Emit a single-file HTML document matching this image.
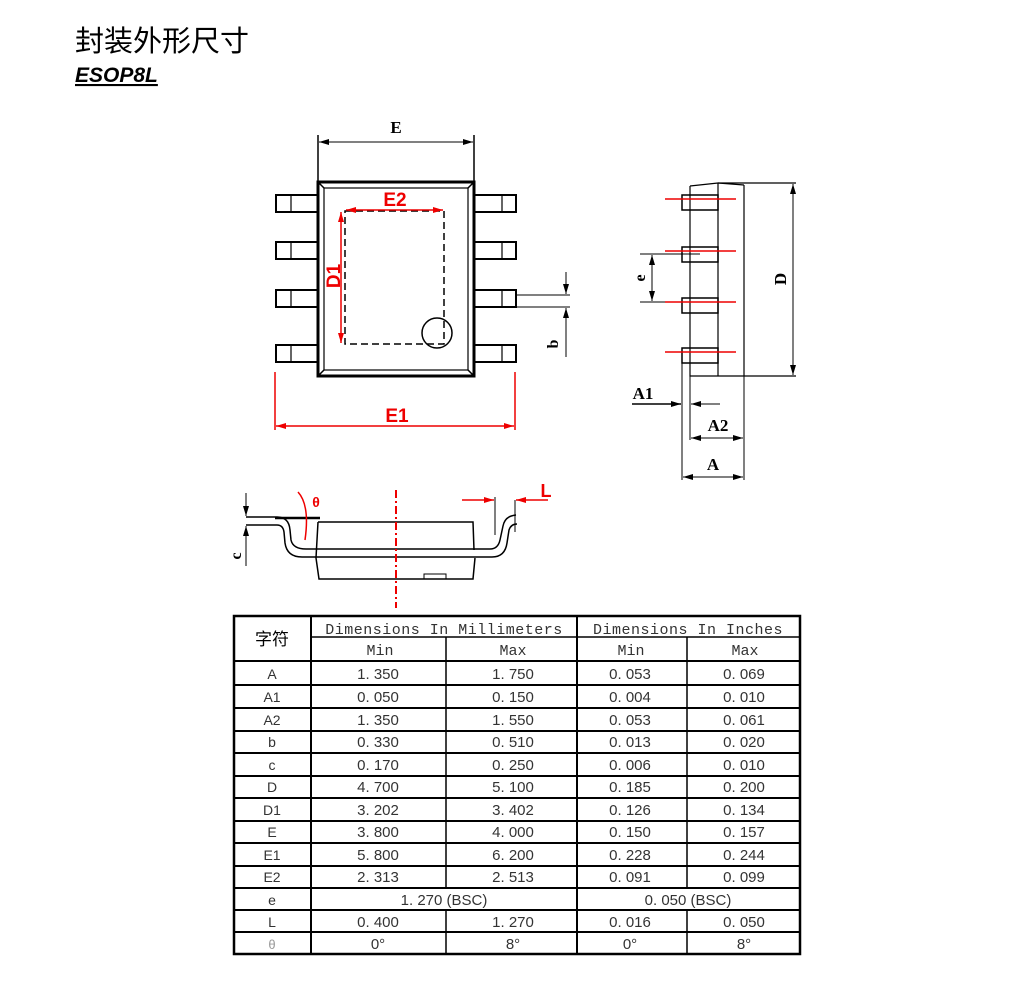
<!DOCTYPE html>
<html><head><meta charset="utf-8"><style>
body{margin:0;background:#fff;width:1020px;height:992px;overflow:hidden}
</style></head><body>
<svg width="1020" height="992" viewBox="0 0 1020 992" xmlns="http://www.w3.org/2000/svg" style="font-family:'Liberation Sans','Noto Sans CJK SC',sans-serif">
<defs>
<marker id="ak" markerWidth="10" markerHeight="6" refX="10" refY="3" orient="auto-start-reverse" markerUnits="userSpaceOnUse"><path d="M0 0 L10 3 L0 6 Z" fill="#000"/></marker>
<marker id="ar" markerWidth="10" markerHeight="6" refX="10" refY="3" orient="auto-start-reverse" markerUnits="userSpaceOnUse"><path d="M0 0 L10 3 L0 6 Z" fill="#e00"/></marker>
</defs>
<text x="75" y="51" font-size="29" fill="#000">封装外形尺寸</text>
<text x="75" y="82" font-size="21" font-weight="bold" font-style="italic" fill="#000" text-decoration="underline">ESOP8L</text>

<g fill="none" stroke="#000" stroke-width="1.5">
<rect x="318" y="182" width="156" height="194" stroke-width="3"/>
<rect x="324" y="188" width="144" height="182" stroke-width="1.2"/>
<line x1="318" y1="182" x2="324" y2="188"/><line x1="474" y1="182" x2="468" y2="188"/>
<line x1="318" y1="376" x2="324" y2="370"/><line x1="474" y1="376" x2="468" y2="370"/>
<g stroke-width="2">
<rect x="276" y="195" width="42" height="17"/><rect x="276" y="242" width="42" height="17"/>
<rect x="276" y="290" width="42" height="17"/><rect x="276" y="345" width="42" height="17"/>
<rect x="474" y="195" width="42" height="17"/><rect x="474" y="242" width="42" height="17"/>
<rect x="474" y="290" width="42" height="17"/><rect x="474" y="345" width="42" height="17"/>
</g>
<g stroke-width="1.2">
<line x1="291" y1="195" x2="291" y2="212"/><line x1="291" y1="242" x2="291" y2="259"/><line x1="291" y1="290" x2="291" y2="307"/><line x1="291" y1="345" x2="291" y2="362"/>
<line x1="502" y1="195" x2="502" y2="212"/><line x1="502" y1="242" x2="502" y2="259"/><line x1="502" y1="290" x2="502" y2="307"/><line x1="502" y1="345" x2="502" y2="362"/>
</g>
<rect x="345" y="211" width="99" height="133" stroke-dasharray="7,4"/>
<circle cx="437" cy="333" r="15"/>
<line x1="318" y1="135" x2="318" y2="182"/><line x1="474" y1="135" x2="474" y2="182"/>
<line x1="319" y1="142" x2="473" y2="142" stroke-width="1" marker-start="url(#ak)" marker-end="url(#ak)"/>
<line x1="516" y1="295" x2="570" y2="295" stroke-width="1"/><line x1="516" y1="307" x2="570" y2="307" stroke-width="1"/>
<line x1="566" y1="272" x2="566" y2="294" stroke-width="1" marker-end="url(#ak)"/>
<line x1="566" y1="357" x2="566" y2="308" stroke-width="1" marker-end="url(#ak)"/>
<path d="M690 186 L718 183 L796 183 M690 186 L690 376 L718 376 M718 183 L718 376 L744 376 L744 185 M744 376 L796 376" stroke-width="1.2"/>
<line x1="718" y1="183" x2="744" y2="185" stroke-width="1.2"/>
<g stroke-width="1.5">
<rect x="682" y="195" width="36" height="15"/><rect x="682" y="247" width="36" height="15"/>
<rect x="682" y="298" width="36" height="15"/><rect x="682" y="348" width="36" height="15"/>
</g>
<line x1="793" y1="184" x2="793" y2="375" stroke-width="1" marker-start="url(#ak)" marker-end="url(#ak)"/>
<line x1="640" y1="254" x2="700" y2="254" stroke-width="1"/><line x1="640" y1="302" x2="700" y2="302" stroke-width="1"/>
<line x1="652" y1="255" x2="652" y2="301" stroke-width="1" marker-start="url(#ak)" marker-end="url(#ak)"/>
<line x1="682" y1="363" x2="682" y2="480" stroke-width="1"/>
<line x1="690" y1="376" x2="690" y2="440" stroke-width="1"/>
<line x1="744" y1="376" x2="744" y2="480" stroke-width="1"/>
<line x1="632" y1="404" x2="681" y2="404" marker-end="url(#ak)"/>
<line x1="720" y1="404" x2="691" y2="404" stroke-width="1" marker-end="url(#ak)"/>
<line x1="691" y1="438" x2="743" y2="438" stroke-width="1" marker-start="url(#ak)" marker-end="url(#ak)"/>
<line x1="683" y1="477" x2="743" y2="477" stroke-width="1" marker-start="url(#ak)" marker-end="url(#ak)"/>
<path d="M246 517 L277 517 Q289 517 290 530 L291 540 Q293 549 306 549 L490 549 Q498 549 500 540 L503 526 Q505 516 516 515" stroke-width="1.5"/>
<path d="M246 525 L277 525 Q283 525 284 532 L285 543 Q287 557 302 557 L492 557 Q505 557 507 543 L509 530 Q511 524 517 524" stroke-width="1.5"/>
<path d="M318 522 L473 522 L474 550 M318 522 L316 558 L319 579 L473 579 L475 558" stroke-width="1.5"/>
<rect x="424" y="574" width="22" height="5" stroke-width="1"/>
<line x1="246" y1="493" x2="246" y2="516" stroke-width="1" marker-end="url(#ak)"/>
<line x1="246" y1="566" x2="246" y2="526" stroke-width="1" marker-end="url(#ak)"/>
<line x1="275" y1="518" x2="320" y2="518" stroke-width="2.5"/>
<line x1="495" y1="497" x2="495" y2="535" stroke-width="1"/>
<line x1="515" y1="500" x2="515" y2="532" stroke-width="1"/>
</g>
<g fill="#000" style="font-family:'Liberation Serif',serif" font-weight="bold">
<text x="396" y="133" font-size="17" text-anchor="middle">E</text>
<text x="643" y="399" font-size="17" text-anchor="middle">A1</text>
<text x="718" y="431" font-size="17" text-anchor="middle">A2</text>
<text x="713" y="470" font-size="17" text-anchor="middle">A</text>
<text transform="translate(786,279) rotate(-90)" font-size="17" text-anchor="middle">D</text>
<text transform="translate(645,278) rotate(-90)" font-size="16" text-anchor="middle">e</text>
<text transform="translate(558,344) rotate(-90)" font-size="16" text-anchor="middle">b</text>
<text transform="translate(241,556) rotate(-90)" font-size="16" text-anchor="middle">c</text>
</g>
<g stroke="#e00" fill="none" stroke-width="1.5">
<line x1="346" y1="210" x2="443" y2="210" marker-start="url(#ar)" marker-end="url(#ar)"/>
<line x1="341" y1="212" x2="341" y2="343" marker-start="url(#ar)" marker-end="url(#ar)"/>
<line x1="275" y1="372" x2="275" y2="430"/><line x1="515" y1="372" x2="515" y2="430"/>
<line x1="276" y1="426" x2="514" y2="426" marker-start="url(#ar)" marker-end="url(#ar)"/>
<line x1="665" y1="199" x2="736" y2="199"/><line x1="665" y1="251" x2="736" y2="251"/>
<line x1="665" y1="302" x2="736" y2="302"/><line x1="665" y1="352" x2="736" y2="352"/>
<line x1="396" y1="490" x2="396" y2="608" stroke-dasharray="8,3,2,3" stroke-width="2"/>
<line x1="462" y1="500" x2="494" y2="500" marker-end="url(#ar)"/><line x1="548" y1="500" x2="516" y2="500" marker-end="url(#ar)"/>
<path d="M298 492 Q310 505 305 540"/>
</g>
<g fill="#e00" font-weight="bold">
<text x="395" y="206" font-size="19" text-anchor="middle">E2</text>
<text transform="translate(340,276) rotate(-90)" font-size="19" text-anchor="middle">D1</text>
<text x="397" y="422" font-size="19" text-anchor="middle">E1</text>
<text x="546" y="497" font-size="18" text-anchor="middle">L</text>
<text x="316" y="507" font-size="14" text-anchor="middle">θ</text>
</g>

<g stroke="#000" fill="none">
<rect x="234" y="616" width="566" height="338" stroke-width="2.5"/>
<line x1="311" y1="616" x2="311" y2="954" stroke-width="2"/>
<line x1="577" y1="616" x2="577" y2="954" stroke-width="2"/>
<line x1="446" y1="637" x2="446" y2="888" stroke-width="1.5"/><line x1="446" y1="910" x2="446" y2="954" stroke-width="1.5"/>
<line x1="687" y1="637" x2="687" y2="888" stroke-width="1.5"/><line x1="687" y1="910" x2="687" y2="954" stroke-width="1.5"/>
<line x1="311" y1="637" x2="800" y2="637" stroke-width="1.5"/>
<g stroke-width="2">
<line x1="234" y1="661" x2="800" y2="661"/><line x1="234" y1="685" x2="800" y2="685"/>
<line x1="234" y1="708" x2="800" y2="708"/><line x1="234" y1="731" x2="800" y2="731"/>
<line x1="234" y1="753" x2="800" y2="753"/><line x1="234" y1="776" x2="800" y2="776"/>
<line x1="234" y1="798" x2="800" y2="798"/><line x1="234" y1="821" x2="800" y2="821"/>
<line x1="234" y1="843" x2="800" y2="843"/><line x1="234" y1="866" x2="800" y2="866"/>
<line x1="234" y1="888" x2="800" y2="888"/><line x1="234" y1="910" x2="800" y2="910"/>
<line x1="234" y1="932" x2="800" y2="932"/>
</g>
</g>
<g fill="#333" text-anchor="middle" style="font-family:'Liberation Mono',monospace">
<text x="272" y="645" font-size="17" fill="#000" style="font-family:'Liberation Sans','Noto Sans CJK SC',sans-serif">字符</text>
<text x="444" y="634" font-size="15" letter-spacing="0.5">Dimensions In Millimeters</text>
<text x="688" y="634" font-size="15" letter-spacing="0.5">Dimensions In Inches</text>
<text x="380" y="655" font-size="15">Min</text>
<text x="513" y="655" font-size="15">Max</text>
<text x="631" y="655" font-size="15">Min</text>
<text x="745" y="655" font-size="15">Max</text>
</g>
<g fill="#333" font-size="15" text-anchor="middle">
<g><text x="272" y="679" font-size="14">A</text><text x="378" y="679">1. 350</text><text x="513" y="679">1. 750</text><text x="630" y="679">0. 053</text><text x="744" y="679">0. 069</text></g>
<g><text x="272" y="702" font-size="14">A1</text><text x="378" y="702">0. 050</text><text x="513" y="702">0. 150</text><text x="630" y="702">0. 004</text><text x="744" y="702">0. 010</text></g>
<g><text x="272" y="725" font-size="14">A2</text><text x="378" y="725">1. 350</text><text x="513" y="725">1. 550</text><text x="630" y="725">0. 053</text><text x="744" y="725">0. 061</text></g>
<g><text x="272" y="747" font-size="14">b</text><text x="378" y="747">0. 330</text><text x="513" y="747">0. 510</text><text x="630" y="747">0. 013</text><text x="744" y="747">0. 020</text></g>
<g><text x="272" y="770" font-size="14">c</text><text x="378" y="770">0. 170</text><text x="513" y="770">0. 250</text><text x="630" y="770">0. 006</text><text x="744" y="770">0. 010</text></g>
<g><text x="272" y="792" font-size="14">D</text><text x="378" y="792">4. 700</text><text x="513" y="792">5. 100</text><text x="630" y="792">0. 185</text><text x="744" y="792">0. 200</text></g>
<g><text x="272" y="815" font-size="14">D1</text><text x="378" y="815">3. 202</text><text x="513" y="815">3. 402</text><text x="630" y="815">0. 126</text><text x="744" y="815">0. 134</text></g>
<g><text x="272" y="837" font-size="14">E</text><text x="378" y="837">3. 800</text><text x="513" y="837">4. 000</text><text x="630" y="837">0. 150</text><text x="744" y="837">0. 157</text></g>
<g><text x="272" y="860" font-size="14">E1</text><text x="378" y="860">5. 800</text><text x="513" y="860">6. 200</text><text x="630" y="860">0. 228</text><text x="744" y="860">0. 244</text></g>
<g><text x="272" y="882" font-size="14">E2</text><text x="378" y="882">2. 313</text><text x="513" y="882">2. 513</text><text x="630" y="882">0. 091</text><text x="744" y="882">0. 099</text></g>
<g><text x="272" y="905" font-size="14">e</text><text x="444" y="905">1. 270 (BSC)</text><text x="688" y="905">0. 050 (BSC)</text></g>
<g><text x="272" y="927" font-size="14">L</text><text x="378" y="927">0. 400</text><text x="513" y="927">1. 270</text><text x="630" y="927">0. 016</text><text x="744" y="927">0. 050</text></g>
<g><text x="272" y="949" font-size="13" fill="#999">θ</text><text x="378" y="949">0°</text><text x="513" y="949">8°</text><text x="630" y="949">0°</text><text x="744" y="949">8°</text></g>
</g>
</svg>
</body></html>
